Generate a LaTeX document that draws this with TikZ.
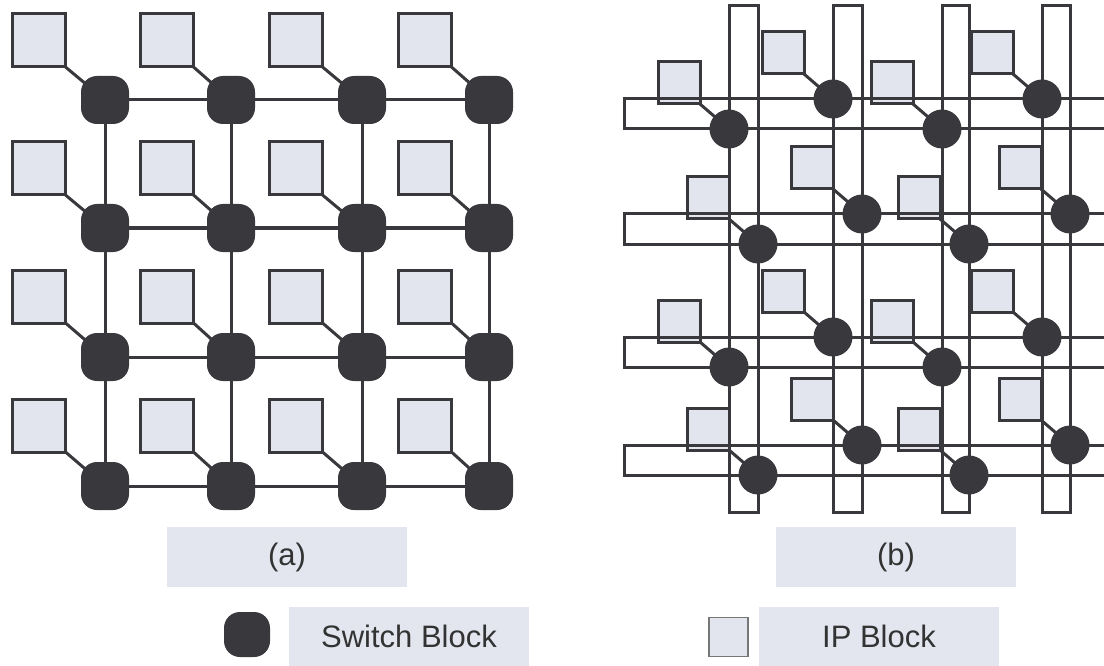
\documentclass[tikz,border=0pt]{standalone}
\usepackage{fontspec}
\setmainfont{Liberation Sans}
\definecolor{ink}{HTML}{38383D}
\definecolor{ipfill}{HTML}{E2E5EE}
\definecolor{capfill}{HTML}{E3E6EF}
\definecolor{txt}{HTML}{333333}
\definecolor{legline}{HTML}{777777}
\pgfdeclarelayer{wires}
\pgfdeclarelayer{ips}
\pgfdeclarelayer{bars}
\pgfsetlayers{wires,ips,bars,main}
\tikzset{
  ipblock/.style={rectangle, draw=ink, fill=ipfill, line width=3pt,
    minimum size=53pt, inner sep=0pt, outer sep=0pt},
  swblock/.style={rectangle, fill=ink, rounded corners=16pt,
    minimum size=48pt, inner sep=0pt},
  ipsmall/.style={rectangle, draw=ink, fill=ipfill, line width=3pt,
    minimum size=42pt, inner sep=0pt, outer sep=0pt, anchor=south east},
  swdot/.style={circle, fill=ink, minimum size=39pt, inner sep=0pt},
  wire/.style={draw=ink, line width=3pt},
  bar/.style={draw=ink, line width=3pt},
  caption/.style={rectangle, fill=capfill, minimum width=240pt,
    minimum height=60pt, inner sep=0pt, text=txt,
    font=\fontsize{31pt}{37pt}\selectfont},
}
\begin{document}
\begin{tikzpicture}[x=1pt, y=-1pt]
\useasboundingbox (0,0) rectangle (1104,666);

% ---------- (a) mesh: switch blocks on a grid, one IP block per switch
\foreach \c/\sx/\ix in {1/105/39, 2/231/167, 3/362/296, 4/489/425}
  \foreach \r/\sy/\iy in {1/100/40.5, 2/228/168.5, 3/357/296.5, 4/486/425.5} {
    \node[swblock] (s\c\r) at (\sx,\sy) {};
    \begin{pgfonlayer}{ips}
      \node[ipblock] (i\c\r) at (\ix,\iy) {};
    \end{pgfonlayer}
  }
\begin{pgfonlayer}{wires}
  \foreach \c in {1,...,4}
    \foreach \r in {1,...,4}
      \draw[wire] (i\c\r.south east) -- (s\c\r.center);
  \foreach \r in {1,...,4}
    \draw[wire] (s1\r.center) -- (s2\r.center) -- (s3\r.center) -- (s4\r.center);
  \foreach \c in {1,...,4}
    \draw[wire] (s\c1.center) -- (s\c2.center) -- (s\c3.center) -- (s\c4.center);
\end{pgfonlayer}

% ---------- (b) bus bars crossing, switches at the bar edges
\begin{pgfonlayer}{bars}
  \foreach \l/\rr in {729/758, 833/862, 942/969, 1042/1070}
    \draw[bar] (\l,6) rectangle (\rr,512);
  \foreach \t/\b in {99/129, 214/244, 337/367, 445/475}
    \draw[bar] (1104,\t) -- (624,\t) -- (624,\b) -- (1104,\b);
\end{pgfonlayer}

\foreach \n/\x/\y in {11/729/129, 12/833/99,  13/942/129, 14/1042/99,
                      21/758/244, 22/862/214, 23/969/244, 24/1070/214,
                      31/729/367, 32/833/337, 33/942/367, 34/1042/337,
                      41/758/475, 42/862/445, 43/969/475, 44/1070/445} {
  \node[swdot] (d\n) at (\x,\y) {};
  \begin{pgfonlayer}{ips}
    \node[ipsmall] (p\n) at (\x-29,\y-25) {};
  \end{pgfonlayer}
  \begin{pgfonlayer}{wires}
    \draw[wire] (p\n.south east) -- (d\n.center);
  \end{pgfonlayer}
}

% ---------- captions and legend
\node[caption] (capa) at (287,557) {(a)};
\node[caption] (capb) at (896,557) {(b)};
\node[swblock, minimum width=46pt, minimum height=45pt] (legsw) at (247,634.5) {};
\node[caption, minimum height=59pt] (legswtxt) at (409,636.5) {Switch Block};
\node[rectangle, draw=legline, line width=1.5pt, fill=ipfill, minimum size=39pt,
      inner sep=0pt] (legip) at (728.5,637) {};
\node[caption, minimum height=59pt] (legiptxt) at (879,636.5) {IP Block};
\end{tikzpicture}
\end{document}
